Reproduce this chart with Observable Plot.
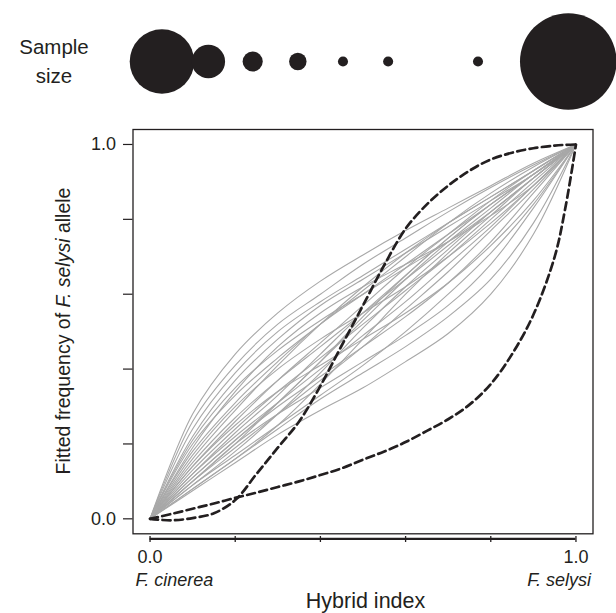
<!DOCTYPE html>
<html><head><meta charset="utf-8">
<script src="https://cdn.jsdelivr.net/npm/d3@7"></script>
<script src="https://cdn.jsdelivr.net/npm/@observablehq/plot@0.6"></script>
<style>
body{margin:0;background:#fff;}
#chart{width:616px;height:613px;position:relative;overflow:hidden;font-family:"Liberation Sans",Arial,sans-serif;background:#fff;}
#chart svg{display:block;}
</style></head><body><div id="chart"></div>
<script>
// ---- data ----
const hybridGrid = [0, 0.1, 0.2, 0.3, 0.4, 0.5, 0.6, 0.7, 0.8, 0.9, 1];
// fitted clines of individual loci (grey), p at each hybridGrid value
const grayCurves = [
  [0,.28,.44,.55,.635,.705,.77,.83,.89,.95,1],
  [0,.26,.41,.52,.60,.68,.75,.82,.885,.945,1],
  [0,.24,.39,.50,.58,.65,.72,.79,.86,.93,1],
  [0,.22,.37,.48,.57,.64,.71,.78,.85,.92,1],
  [0,.20,.33,.43,.52,.61,.70,.79,.87,.94,1],
  [0,.18,.31,.42,.52,.60,.68,.76,.84,.92,1],
  [0,.17,.30,.40,.48,.55,.62,.70,.79,.89,1],
  [0,.16,.29,.41,.52,.62,.71,.79,.86,.93,1],
  [0,.15,.27,.37,.46,.55,.64,.73,.82,.91,1],
  [0,.14,.26,.37,.47,.57,.67,.76,.85,.93,1],
  [0,.13,.24,.34,.43,.52,.61,.70,.80,.90,1],
  [0,.12,.23,.33,.44,.55,.65,.75,.84,.92,1],
  [0,.12,.22,.31,.40,.49,.58,.68,.78,.89,1],
  [0,.11,.21,.31,.42,.53,.64,.74,.83,.92,1],
  [0,.11,.21,.30,.38,.46,.54,.63,.74,.87,1],
  [0,.10,.20,.31,.42,.54,.65,.75,.84,.92,1],
  [0,.10,.19,.28,.37,.46,.56,.66,.77,.88,1],
  [0,.10,.20,.28,.35,.42,.49,.57,.68,.83,1],
  [0,.09,.18,.28,.39,.51,.62,.72,.82,.91,1],
  [0,.09,.17,.25,.33,.41,.50,.60,.71,.84,1],
  [0,.08,.16,.24,.32,.39,.46,.54,.64,.79,1],
  [0,.075,.15,.225,.29,.35,.42,.495,.60,.76,1],
  [0,.08,.16,.25,.36,.48,.60,.71,.81,.91,1],
  [0,.19,.34,.46,.55,.62,.68,.74,.81,.89,1],
  [0,.14,.25,.34,.41,.48,.55,.63,.73,.85,1],
  [0,.21,.35,.45,.53,.60,.67,.74,.82,.91,1]
];
// outlier loci (black dashed)
const dashGrid = [0,0.05,0.1,0.15,0.2,0.25,0.3,0.35,0.4,0.45,0.5,0.55,0.6,0.65,0.7,0.75,0.8,0.85,0.9,0.95,0.975,1];
const outlierSteep  = [0,-0.004,0.002,0.015,0.05,0.12,0.19,0.26,0.355,0.463,0.57,0.678,0.775,0.84,0.89,0.93,0.96,0.978,0.99,0.997,0.999,1];
const outlierConvex = [0,0.013,0.027,0.041,0.056,0.07,0.085,0.10,0.117,0.135,0.158,0.18,0.205,0.235,0.266,0.305,0.36,0.44,0.545,0.70,0.83,1];
// sample size per hybrid-index class (top panel)
const sampleBinCenters = [0.028,0.137,0.241,0.347,0.453,0.559,0.770,0.982];
const sampleSizes = [41,11,4,3,1,1,1,92];
// ticks and labels
const yTickValues = [0,0.2,0.4,0.6,0.8,1];
const yTickLabels = [0,1];
const xTickValues = [0,0.2,0.4,0.6,0.8,1];
const xTickLabels = [0,1];
const speciesLabels = ["F. cinerea","F. selysi"];
const speciesPositions = [0,1];

// ---- build tables ----
const grayRows = grayCurves.flatMap((vals,i)=>vals.map((p,j)=>({id:i,h:hybridGrid[j],p})));
const dashRows = [outlierSteep,outlierConvex].flatMap((vals,i)=>vals.map((p,j)=>({id:i,h:dashGrid[j],p})));
const sampleRows = sampleBinCenters.map((h,i)=>({h,n:sampleSizes[i]}));
const speciesRows = speciesLabels.map((label,i)=>({label,h:speciesPositions[i]}));

const ink = "#231f20";
const font = '"Liberation Sans", Arial, sans-serif';
const W = 616, mL = 132.5, mR = 23.5;
const xDomain = [-0.04,1.04], yDomain = [-0.04,1.04];

const topPlot = Plot.plot({
  width: W, height: 122, marginTop: 0, marginBottom: 0, marginLeft: mL, marginRight: mR,
  x: {domain: xDomain, axis: null},
  r: {type: "sqrt", domain: [0, 92], range: [0, 48.3]},
  style: {fontFamily: font, background: "transparent", overflow: "visible"},
  marks: [
    Plot.dot(sampleRows, {x: "h", r: "n", fill: ink, stroke: null})
  ]
});
{
  const t = d3.select(topPlot).append("text")
    .attr("text-anchor","middle").attr("fill",ink)
    .style("font-family",font).style("font-size","20.5px");
  t.append("tspan").attr("x",54).attr("y",54).text("Sample");
  t.append("tspan").attr("x",54).attr("y",82.5).text("size");
}

const main = Plot.plot({
  width: W, height: 491,
  marginTop: 7, marginBottom: 79.7, marginLeft: mL, marginRight: mR,
  x: {domain: xDomain},
  y: {domain: yDomain},
  style: {fontFamily: font, fontSize: "18px", color: ink, background: "transparent", overflow: "visible"},
  marks: [
    Plot.line(grayRows, {x: "h", y: "p", z: "id", stroke: "#a8a8a8", strokeWidth: 1.1, curve: "catmull-rom"}),
    Plot.line(dashRows, {x: "h", y: "p", z: "id", stroke: ink, strokeWidth: 2.7, strokeDasharray: "8,4.5", curve: "catmull-rom"}),
    Plot.frame({stroke: ink, strokeWidth: 1.3}),
    Plot.axisY(yTickValues, {tickSize: 9.5, fill: "none", label: null, stroke: ink, strokeWidth: 1.2}),
    Plot.axisY(yTickLabels, {tickSize: 0, tickPadding: 17, tickFormat: ".1f", label: null, fill: ink}),
    Plot.ruleY([yDomain[0]], {x1: xTickValues[0], x2: xTickValues[xTickValues.length-1], dy: 5, stroke: ink, strokeWidth: 2.2}),
    Plot.axisX(xTickValues, {tickSize: 6, dy: 2.7, fill: "none", label: null, stroke: ink, strokeWidth: 1.3}),
    Plot.axisX(xTickLabels, {tickSize: 0, tickPadding: 16.5, tickFormat: ".1f", label: null, fill: ink}),
    Plot.text(speciesRows.slice(0,1), {x: "h", text: "label", frameAnchor: "bottom", lineAnchor: "top",
      dy: 39, dx: -14.5, textAnchor: "start", fontStyle: "italic", fill: ink}),
    Plot.text(speciesRows.slice(1), {x: "h", text: "label", frameAnchor: "bottom", lineAnchor: "top",
      dy: 39, dx: 15, textAnchor: "end", fontStyle: "italic", fill: ink})
  ]
});
{
  const svg = d3.select(main);
  const xs = main.scale("x");
  svg.append("text").attr("x", xs.apply(0.5) + 3).attr("y", 486)
    .attr("text-anchor","middle").attr("fill",ink)
    .style("font-family",font).style("font-size","21.5px").text("Hybrid index");
  const yt = svg.append("text").attr("transform","translate(69.5,209) rotate(-90)")
    .attr("text-anchor","middle").attr("fill",ink)
    .style("font-family",font).style("font-size","19.5px");
  yt.append("tspan").text("Fitted frequency of ");
  yt.append("tspan").style("font-style","italic").text("F. selysi");
  yt.append("tspan").text(" allele");
}
const chart = document.getElementById("chart");
chart.append(topPlot, main);
</script>
</body></html>
